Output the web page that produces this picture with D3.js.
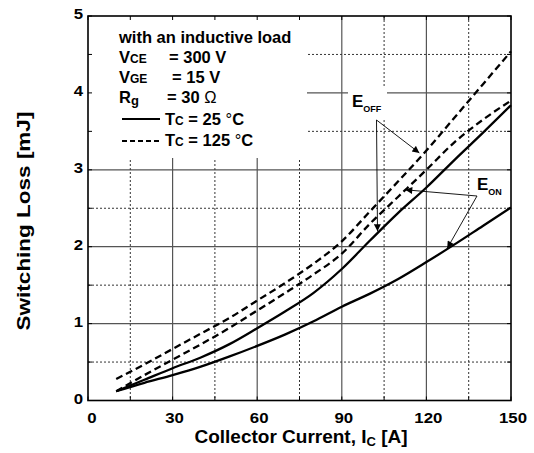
<!DOCTYPE html>
<html>
<head>
<meta charset="utf-8">
<script src="https://cdn.jsdelivr.net/npm/d3@7/dist/d3.min.js"></script>
<style>
  html, body { margin: 0; padding: 0; background: #fff; }
  svg { display: block; }
  text { font-family: "Liberation Sans", Arial, Helvetica, sans-serif; fill: #000; }
</style>
</head>
<body>
<svg id="chart" width="534" height="453"></svg>
<script>
// Collector current (A) at which each loss curve is sampled
const currents = [10, 20, 30, 40, 50, 60, 70, 80, 90, 100, 110, 120, 130, 140, 150];
// Switching energies (mJ)
const eoff125 = [0.28, 0.47, 0.67, 0.87, 1.07, 1.30, 1.53, 1.78, 2.07, 2.46, 2.85, 3.25, 3.68, 4.11, 4.54];
const eon125  = [0.12, 0.33, 0.53, 0.73, 0.94, 1.17, 1.40, 1.64, 1.91, 2.30, 2.65, 3.00, 3.36, 3.65, 3.90];
const eoff25  = [0.12, 0.27, 0.42, 0.56, 0.73, 0.94, 1.16, 1.40, 1.71, 2.08, 2.44, 2.77, 3.13, 3.48, 3.84];
const eon25   = [0.12, 0.23, 0.33, 0.44, 0.57, 0.71, 0.86, 1.03, 1.22, 1.39, 1.58, 1.80, 2.03, 2.27, 2.51];

const xTicks = [0, 30, 60, 90, 120, 150];
const yTicks = [0, 1, 2, 3, 4, 5];
const xMinor = [15, 45, 75, 105, 135];
const yMinor = [0.5, 1.5, 2.5, 3.5, 4.5];

const svg = d3.select("#chart");
const L = 88, R = 511, T = 16, B = 400.5;

const x = d3.scaleLinear().domain([0, 150]).range([L, R]);
const y = d3.scaleLinear().domain([0, 5]).range([B, T]);

// stretch text horizontally by factor k
function stretch(sel, k) {
  sel.each(function () {
    const len = this.getComputedTextLength();
    this.setAttribute("textLength", len * k);
    this.setAttribute("lengthAdjust", "spacingAndGlyphs");
  });
}

// ---- grid ----
const grid = svg.append("g");
grid.selectAll("line.vmaj").data(xTicks.slice(1, -1)).join("line")
  .attr("x1", d => x(d)).attr("x2", d => x(d)).attr("y1", T).attr("y2", B)
  .attr("stroke", "#555").attr("stroke-width", 1.2);
grid.selectAll("line.hmaj").data(yTicks.slice(1, -1)).join("line")
  .attr("x1", L).attr("x2", R).attr("y1", d => y(d)).attr("y2", d => y(d))
  .attr("stroke", "#555").attr("stroke-width", 1.2);
grid.selectAll("line.vmin").data(xMinor).join("line")
  .attr("x1", d => x(d)).attr("x2", d => x(d)).attr("y1", T).attr("y2", B)
  .attr("stroke", "#333").attr("stroke-width", 1).attr("stroke-dasharray", "2,2");
grid.selectAll("line.hmin").data(yMinor).join("line")
  .attr("x1", L).attr("x2", R).attr("y1", d => y(d)).attr("y2", d => y(d))
  .attr("stroke", "#333").attr("stroke-width", 1).attr("stroke-dasharray", "2,2");

// white panels behind the condition block and the E_OFF label
svg.append("rect").attr("x", L).attr("y", T).attr("width", 307 - L).attr("height", 158 - T).attr("fill", "#fff");
svg.append("rect").attr("x", 348).attr("y", 87).attr("width", 39).attr("height", 31).attr("fill", "#fff");

// small inward ticks on all four sides
const tk = svg.append("g").attr("stroke", "#000").attr("stroke-width", 1);
xMinor.concat(xTicks).forEach(v => {
  tk.append("line").attr("x1", x(v)).attr("x2", x(v)).attr("y1", B).attr("y2", B - 4);
  tk.append("line").attr("x1", x(v)).attr("x2", x(v)).attr("y1", T).attr("y2", T + 4);
});
yMinor.concat(yTicks).forEach(v => {
  tk.append("line").attr("x1", L).attr("x2", L + 4).attr("y1", y(v)).attr("y2", y(v));
  tk.append("line").attr("x1", R).attr("x2", R - 4).attr("y1", y(v)).attr("y2", y(v));
});

// ---- curves ----
const line = d3.line().x(d => x(d[0])).y(d => y(d[1])).curve(d3.curveMonotoneX);
const series = [
  { v: eoff125, dash: "7,4" },
  { v: eon125, dash: "7,4" },
  { v: eoff25, dash: null },
  { v: eon25, dash: null }
];
series.forEach(s => {
  svg.append("path")
    .datum(currents.map((c, i) => [c, s.v[i]]))
    .attr("d", line)
    .attr("fill", "none").attr("stroke", "#000").attr("stroke-width", 2.3)
    .attr("stroke-dasharray", s.dash);
});

// plot frame
svg.append("rect").attr("x", L).attr("y", T).attr("width", R - L).attr("height", B - T)
  .attr("fill", "none").attr("stroke", "#000").attr("stroke-width", 1.6);

// ---- axis labels ----
const xl = svg.selectAll("text.xt").data(xTicks).join("text")
  .attr("x", d => x(d) + (d === 0 ? 4 : 2)).attr("y", 423)
  .attr("text-anchor", "middle").attr("font-size", 15).attr("font-weight", "bold")
  .text(d => d);
stretch(xl, 1.12);
const yl = svg.selectAll("text.yt").data(yTicks).join("text")
  .attr("x", 83).attr("y", d => y(d) + 3)
  .attr("text-anchor", "end").attr("font-size", 15).attr("font-weight", "bold")
  .text(d => d);
stretch(yl, 1.12);

// x title with subscript
const xt = svg.append("text").attr("x", 301).attr("y", 443)
  .attr("text-anchor", "middle").attr("font-size", 19).attr("font-weight", "bold");
xt.append("tspan").text("Collector Current, I");
xt.append("tspan").attr("font-size", 13).attr("dy", 3).text("C");
xt.append("tspan").attr("dy", -3).text(" [A]");

// y title
const yt = svg.append("text").attr("transform", "translate(30,221) rotate(-90)")
  .attr("text-anchor", "middle").attr("font-size", 18).attr("font-weight", "bold")
  .text("Switching Loss [mJ]");
stretch(yt, 1.25);

// ---- condition block ----
const lg = svg.append("g").attr("font-weight", "bold").attr("font-size", 16.5);
lg.append("text").attr("x", 119).attr("y", 43).text("with an inductive load");

function sym(yPos, main, sub, subSize, subDy) {
  const t = lg.append("text").attr("x", 119).attr("y", yPos);
  t.append("tspan").text(main);
  t.append("tspan").attr("font-size", subSize).attr("dy", subDy).text(sub);
}
sym(63, "V", "CE", 12, 0);
lg.append("text").attr("x", 169).attr("y", 63).text("= 300 V");
sym(83, "V", "GE", 12, 0);
lg.append("text").attr("x", 172).attr("y", 83).text("= 15 V");
sym(103, "R", "g", 13, 2);
const rg = lg.append("text").attr("x", 167).attr("y", 103);
rg.append("tspan").text("= 30 ");
rg.append("tspan").attr("font-weight", "normal").text("Ω");

lg.append("line").attr("x1", 122).attr("x2", 160).attr("y1", 119).attr("y2", 119)
  .attr("stroke", "#000").attr("stroke-width", 2);
const t25 = lg.append("text").attr("x", 165).attr("y", 125);
t25.append("tspan").text("T");
t25.append("tspan").attr("font-size", 12).text("C");
t25.append("tspan").text(" = 25 ");
t25.append("tspan").attr("font-weight", "normal").text("°");
t25.append("tspan").text("C");

lg.append("line").attr("x1", 122).attr("x2", 160).attr("y1", 141).attr("y2", 141)
  .attr("stroke", "#000").attr("stroke-width", 2).attr("stroke-dasharray", "5,3");
const t125 = lg.append("text").attr("x", 165).attr("y", 146);
t125.append("tspan").text("T");
t125.append("tspan").attr("font-size", 12).text("C");
t125.append("tspan").text(" = 125 ");
t125.append("tspan").attr("font-weight", "normal").text("°");
t125.append("tspan").text("C");

// ---- curve labels with pointers ----
const defs = svg.append("defs");
defs.append("marker").attr("id", "ah").attr("viewBox", "0 0 10 10")
  .attr("refX", 10).attr("refY", 5).attr("markerWidth", 9).attr("markerHeight", 7)
  .attr("markerUnits", "userSpaceOnUse").attr("orient", "auto")
  .append("path").attr("d", "M0,0L10,5L0,10Z").attr("fill", "#000");

function label(xp, yp, main, sub) {
  const t = svg.append("text").attr("x", xp).attr("y", yp).attr("font-weight", "bold").attr("font-size", 17);
  t.append("tspan").text(main);
  t.append("tspan").attr("font-size", 9).attr("dy", 5).text(sub);
}
label(352, 107, "E", "OFF");
label(477, 190, "E", "ON");

function pointer(x0, y0, x1, y1) {
  svg.append("line").attr("x1", x0).attr("y1", y0).attr("x2", x1).attr("y2", y1)
    .attr("stroke", "#000").attr("stroke-width", 0.9).attr("marker-end", "url(#ah)");
}
// E_OFF pointers: 125 °C curve and 25 °C curve
pointer(376.5, 120, x(117.5), y(3.22));
pointer(376.5, 120, 377.5, y(2.2));
// E_ON pointers: 125 °C curve and 25 °C curve
pointer(477, 196, x(112.5), y(2.74));
pointer(477, 196, x(127.4), y(1.98));
</script>
</body>
</html>
